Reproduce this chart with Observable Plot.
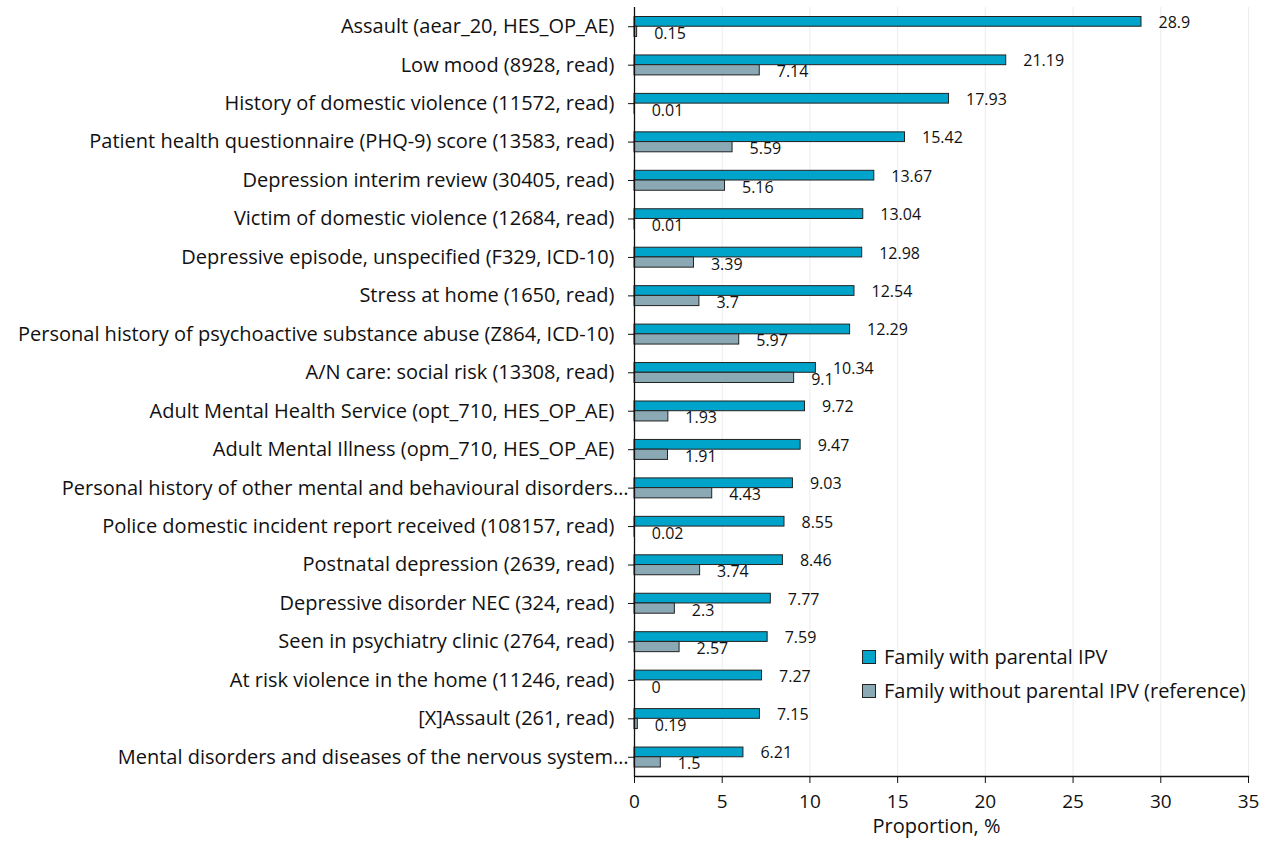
<!DOCTYPE html>
<html>
<head>
<meta charset="utf-8">
<script src="https://cdn.jsdelivr.net/npm/d3@7"></script>
<script src="https://cdn.jsdelivr.net/npm/@observablehq/plot@0.6"></script>
<style>
  body { margin: 0; background: #fff; }
  #wrap { position: relative; width: 1274px; height: 841px; font-family: "Open Sans", sans-serif; }
  .legend { position: absolute; left: 862px; top: 640px; font-size: 20px; color: #111; line-height: 34px; }
  .legend .row { display: flex; align-items: center; white-space: nowrap; }
  .legend .sw { width: 14px; height: 14px; border: 1px solid #222; margin-right: 8px; box-sizing: border-box; }
</style>
</head>
<body>
<div id="wrap"></div>
<script>
const categories = [
  "Assault (aear_20, HES_OP_AE)",
  "Low mood (8928, read)",
  "History of domestic violence (11572, read)",
  "Patient health questionnaire (PHQ-9) score (13583, read)",
  "Depression interim review (30405, read)",
  "Victim of domestic violence (12684, read)",
  "Depressive episode, unspecified (F329, ICD-10)",
  "Stress at home (1650, read)",
  "Personal history of psychoactive substance abuse (Z864, ICD-10)",
  "A/N care: social risk (13308, read)",
  "Adult Mental Health Service (opt_710, HES_OP_AE)",
  "Adult Mental Illness (opm_710, HES_OP_AE)",
  "Personal history of other mental and behavioural disorders…",
  "Police domestic incident report received (108157, read)",
  "Postnatal depression (2639, read)",
  "Depressive disorder NEC (324, read)",
  "Seen in psychiatry clinic (2764, read)",
  "At risk violence in the home (11246, read)",
  "[X]Assault (261, read)",
  "Mental disorders and diseases of the nervous system…"
];
const withIPV = [28.9, 21.19, 17.93, 15.42, 13.67, 13.04, 12.98, 12.54, 12.29, 10.34, 9.72, 9.47, 9.03, 8.55, 8.46, 7.77, 7.59, 7.27, 7.15, 6.21];
const withoutIPV = [0.15, 7.14, 0.01, 5.59, 5.16, 0.01, 3.39, 3.7, 5.97, 9.1, 1.93, 1.91, 4.43, 0.02, 3.74, 2.3, 2.57, 0, 0.19, 1.5];
const xTicks = [0, 5, 10, 15, 20, 25, 30, 35];
const seriesNames = ["Family with parental IPV", "Family without parental IPV (reference)"];
const seriesColors = ["#00a3c9", "#8aa9b5"];

const rows = categories.map((c, i) => ({cat: c, a: withIPV[i], b: withoutIPV[i]}));
const fullLabels = categories.filter(c => !c.endsWith("…"));
const cutLabels = categories.filter(c => c.endsWith("…"));

const H = 841, mTop = 7, mBottom = 65;
const bw = (H - mTop - mBottom) / categories.length;
const half = bw / 2;

const chart = Plot.plot({
  width: 1274,
  height: H,
  marginLeft: 634,
  marginRight: 26,
  marginTop: mTop,
  marginBottom: mBottom,
  style: {fontFamily: "Open Sans, sans-serif", fontSize: "20px", color: "#111", background: "#fff"},
  x: {domain: [0, 35], ticks: xTicks, label: null},
  y: {domain: categories, padding: 0, round: false, label: null},
  marks: [
    Plot.gridX(xTicks.slice(1), {stroke: "#ececec", strokeOpacity: 1}),
    Plot.barX(rows, {y: "cat", x: "a", fill: seriesColors[0], stroke: "#222", strokeWidth: 1, insetTop: 9.5, insetBottom: half}),
    Plot.barX(rows, {y: "cat", x: "b", fill: seriesColors[1], stroke: "#222", strokeWidth: 1, insetTop: half, insetBottom: 9}),
    Plot.text(rows, {y: "cat", x: "a", text: d => String(d.a), textAnchor: "start", dx: 17, dy: -4, fontSize: 16, fill: "#111"}),
    Plot.text(rows, {y: "cat", x: "b", text: d => String(d.b), textAnchor: "start", dx: 17, dy: 7, fontSize: 16, fill: "#111"}),
    Plot.ruleX([0], {stroke: "#111", strokeWidth: 1.3}),
    Plot.frame({anchor: "bottom", stroke: "#111", strokeWidth: 1.3}),
    Plot.axisX({ticks: xTicks, tickSize: 7, tickPadding: 11, fontSize: 19, label: null, stroke: "#111"}),
    Plot.axisY({tickSize: 6, text: null, label: null, stroke: "#111"}),
    Plot.text(fullLabels, {y: d => d, frameAnchor: "left", textAnchor: "end", dx: -20, fontSize: 20, fill: "#111"}),
    Plot.text(cutLabels, {y: d => d, frameAnchor: "left", textAnchor: "end", dx: -6, fontSize: 20, fill: "#111"}),
    Plot.text(["Proportion, %"], {frameAnchor: "bottom", dy: 56, dx: -5, fontSize: 20, fill: "#111"})
  ]
});

const wrap = document.getElementById("wrap");
wrap.appendChild(chart);
const leg = document.createElement("div");
leg.className = "legend";
seriesNames.forEach((n, i) => {
  const r = document.createElement("div");
  r.className = "row";
  const s = document.createElement("span");
  s.className = "sw";
  s.style.background = seriesColors[i];
  const t = document.createElement("span");
  t.textContent = n;
  r.appendChild(s); r.appendChild(t);
  leg.appendChild(r);
});
wrap.appendChild(leg);
</script>
</body>
</html>
